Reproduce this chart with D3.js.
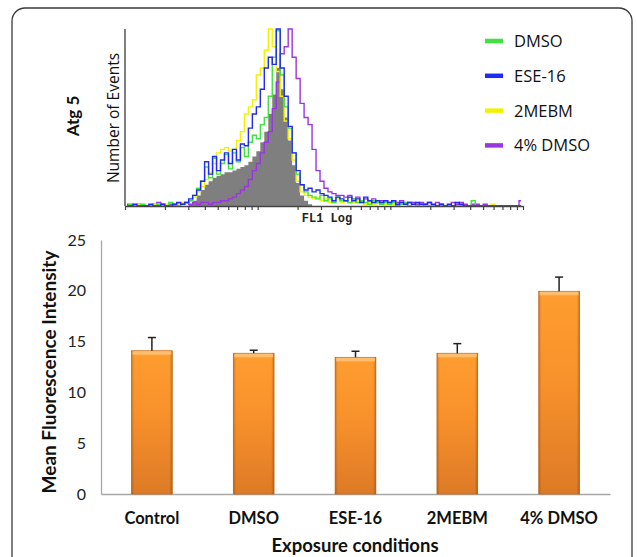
<!DOCTYPE html>
<html>
<head>
<meta charset="utf-8">
<script src="https://cdn.jsdelivr.net/npm/d3@7"></script>
<style>
  body { margin: 0; background: #fff; }
  svg { display: block; }
</style>
</head>
<body>
<div id="chart"></div>
<script>
// bar chart data
const conditions = ["Control", "DMSO", "ESE-16", "2MEBM", "4% DMSO"];
const meanFluor = [14.1, 13.85, 13.45, 13.85, 19.95];
const errUpper = [1.3, 0.3, 0.6, 0.95, 1.4];
const yTicks = [0, 5, 10, 15, 20, 25];

// flow histogram data (100 channels across FL1 log axis, % of max)
const histLabels = ["DMSO", "ESE-16", "2MEBM", "4% DMSO"];
const histColors = ["#3fe23f", "#1f2bf2", "#f2f200", "#9b35e0"];
const controlCounts = [
  0,0,0,0,0,0,0,0,0,0,
  0,0,0,0,0,0,1,3,6,9,
  12,14,16,17,18,19,19,20,21,22,
  23,25,28,31,36,42,52,63,78,66,
  50,37,23,13,6,3,1,0,0,0,
  0,0,0,0,0,0,0,0,0,0,
  0,0,0,0,0,0,0,0,0,0,
  0,0,0,0,0,0,0,0,0,0,
  0,0,0,0,0,0,0,0,0,0,
  0,0,0,0,0,0,0,0,0,0
];
const dmsoCounts = [
  0,1,0,0,1,0,0,0,1,0,
  0,2,1,0,1,2,3,6,10,14,
  22,16,27,18,24,29,21,30,25,33,
  28,36,40,38,46,50,62,84,99,74,
  56,44,30,18,12,8,6,5,4,6,
  3,4,2,5,3,3,2,4,2,3,
  2,1,3,2,1,2,1,2,0,1,
  2,0,1,0,1,0,0,0,0,0,
  0,0,0,0,0,0,0,3,0,0,
  0,0,0,0,0,0,0,0,0,0
];
const ese16Counts = [
  0,0,1,0,0,0,1,0,0,1,
  0,0,1,2,1,2,4,6,9,14,
  25,18,28,20,26,30,24,32,26,35,
  34,44,52,56,66,78,84,80,100,78,
  62,45,30,20,12,9,10,8,9,7,
  6,5,3,5,4,3,5,3,4,2,
  5,3,2,3,2,3,2,3,1,2,
  1,2,1,2,1,1,2,1,0,1,
  0,1,0,2,1,0,0,0,0,0,
  0,0,0,0,0,0,0,0,0,0
];
const mebmCounts = [
  0,1,0,1,0,0,0,1,0,0,
  1,0,1,1,2,2,3,5,8,11,
  15,19,24,30,32,33,31,32,37,42,
  52,56,60,74,78,88,100,90,76,62,
  48,38,26,14,8,6,5,4,5,3,
  4,2,3,4,2,3,2,2,3,2,
  1,2,1,2,1,1,2,1,0,1,
  1,0,1,0,0,0,0,0,0,0,
  0,0,0,0,0,0,0,0,0,0,
  0,0,1,0,0,0,0,0,0,0
];
const dmso4Counts = [
  1,0,0,1,0,0,0,1,2,1,
  0,1,0,1,1,2,1,2,1,2,
  2,1,2,2,3,3,4,5,7,9,
  11,15,20,24,30,36,42,55,70,86,
  90,100,84,72,58,50,46,32,20,14,
  10,8,7,6,6,5,6,4,5,3,
  4,3,4,2,3,3,2,3,2,3,
  1,2,2,1,2,1,2,0,2,1,
  0,0,2,1,2,1,0,1,1,0,
  1,0,0,0,0,0,0,0,0,3
];
const fl1Decades = [1, 10, 100];
const fl1Steps = [1, 2, 3, 4, 5, 6, 7, 8, 9];

const W = 637, H = 557;
const svg = d3.select("#chart").append("svg").attr("width", W).attr("height", H);

// outer frame
svg.append("rect")
  .attr("x", 12).attr("y", 8).attr("width", 620).attr("height", 600)
  .attr("rx", 13).attr("fill", "none").attr("stroke", "#3a3a3a").attr("stroke-width", 1.3);

// ---------- histogram panel ----------
const hx0 = 125, hx1 = 523, hy0 = 206, hy1 = 29;
const xBin = d3.scaleLinear().domain([0, controlCounts.length]).range([hx0, hx1]);
const xLog = d3.scaleLog().domain([1, 1000]).range([hx0, hx1]);
const yHist = d3.scaleLinear().domain([0, 100]).range([hy0, hy1]);

const hist = svg.append("g");

hist.append("path")
  .datum(controlCounts)
  .attr("fill", "#7f7f7f")
  .attr("d", d3.area().x((d, i) => xBin(i + 0.5)).y0(yHist(0)).y1(d => yHist(d)).curve(d3.curveStep));

const lineGen = d3.line().x((d, i) => xBin(i + 0.5)).y(d => yHist(d)).curve(d3.curveStep);
const seriesCounts = [dmsoCounts, ese16Counts, mebmCounts, dmso4Counts];
[3, 2, 0, 1].forEach(k => {
  hist.append("path")
    .datum(seriesCounts[k])
    .attr("fill", "none")
    .attr("stroke", histColors[k])
    .attr("stroke-width", 1.4)
    .attr("d", lineGen);
});

// axes
const logTicks = fl1Decades.flatMap(d => fl1Steps.map(s => d * s)).concat([1000]);
const xAxisH = hist.append("g")
  .attr("transform", `translate(0,${hy0})`)
  .call(d3.axisBottom(xLog).tickValues(logTicks).tickFormat("").tickSize(4).tickSizeOuter(0));
xAxisH.select(".domain").attr("stroke", "#444").attr("stroke-width", 1.5);
xAxisH.selectAll(".tick line").attr("stroke", "#444").attr("stroke-width", 1.2);

hist.append("line")
  .attr("x1", hx0).attr("x2", hx0).attr("y1", hy1).attr("y2", hy0)
  .attr("stroke", "#555").attr("stroke-width", 1.5);

hist.append("text")
  .attr("x", 327).attr("y", 222)
  .attr("text-anchor", "middle")
  .style("font-family", "'Liberation Mono', 'DejaVu Sans Mono', monospace")
  .style("font-size", "12px").style("font-weight", "bold")
  .attr("fill", "#222")
  .text("FL1 Log");

hist.append("text")
  .attr("transform", `translate(119,118) rotate(-90)`)
  .attr("text-anchor", "middle")
  .style("font-family", "'Open Sans', Lato, sans-serif")
  .style("font-size", "15.5px")
  .attr("fill", "#111")
  .text("Number of Events");

hist.append("text")
  .attr("transform", `translate(79,116) rotate(-90)`)
  .attr("text-anchor", "middle")
  .style("font-family", "Lato, 'Open Sans', sans-serif")
  .style("font-size", "17px").style("font-weight", "bold")
  .attr("fill", "#111")
  .text("Atg 5");

// legend
const legend = svg.append("g").attr("transform", "translate(485,41)");
histLabels.forEach((lab, i) => {
  const g = legend.append("g").attr("transform", `translate(0,${i * 34.8})`);
  g.append("line").attr("x1", 0).attr("x2", 18).attr("y1", 0).attr("y2", 0)
    .attr("stroke", histColors[i]).attr("stroke-width", 4.5);
  g.append("text").attr("x", 29).attr("y", 0).attr("dy", "0.36em")
    .style("font-family", "'Open Sans', Lato, sans-serif")
    .style("font-size", "16.5px").attr("fill", "#111")
    .text(lab);
});

// ---------- bar chart ----------
const bx0 = 101, bx1 = 610, by0 = 494, by1 = 240;
const x = d3.scaleBand().domain(conditions).range([bx0, bx1]).paddingInner(0.6).paddingOuter(0.3);
const y = d3.scaleLinear().domain([0, 25]).range([by0, by1]);

const defs = svg.append("defs");
const grad = defs.append("linearGradient").attr("id", "barGrad")
  .attr("x1", 0).attr("y1", 0).attr("x2", 0).attr("y2", 1);
grad.append("stop").attr("offset", "0%").attr("stop-color", "#ff9d30");
grad.append("stop").attr("offset", "45%").attr("stop-color", "#f8912b");
grad.append("stop").attr("offset", "100%").attr("stop-color", "#dd7a26");
const side = defs.append("linearGradient").attr("id", "sideGrad")
  .attr("x1", 0).attr("y1", 0).attr("x2", 1).attr("y2", 0);
side.append("stop").attr("offset", "0%").attr("stop-color", "#000").attr("stop-opacity", 0.18);
side.append("stop").attr("offset", "7%").attr("stop-color", "#000").attr("stop-opacity", 0);
side.append("stop").attr("offset", "93%").attr("stop-color", "#000").attr("stop-opacity", 0);
side.append("stop").attr("offset", "100%").attr("stop-color", "#000").attr("stop-opacity", 0.22);

const chart = svg.append("g");

// axes lines
const yAxis = chart.append("g")
  .attr("transform", `translate(${bx0},0)`)
  .call(d3.axisLeft(y).tickValues(yTicks).tickSize(0).tickPadding(15));
yAxis.select(".domain").attr("stroke", "#a6a6a6").attr("stroke-width", 1.3);
yAxis.selectAll(".tick text")
  .style("font-family", "Lato, 'Open Sans', sans-serif")
  .style("font-size", "16px").attr("fill", "#222");

const xAxis = chart.append("g")
  .attr("transform", `translate(0,${by0})`)
  .call(d3.axisBottom(x).tickSize(0).tickPadding(18));
xAxis.select(".domain").attr("stroke", "#a6a6a6").attr("stroke-width", 1.3);
xAxis.selectAll(".tick text")
  .style("font-family", "Lato, 'Open Sans', sans-serif")
  .style("font-size", "16.5px").style("font-weight", "bold").attr("fill", "#111");

const bars = chart.selectAll(".bar").data(conditions).enter().append("g").attr("class", "bar");
bars.append("rect")
  .attr("x", d => x(d)).attr("y", (d, i) => y(meanFluor[i]))
  .attr("width", x.bandwidth()).attr("height", (d, i) => y(0) - y(meanFluor[i]))
  .attr("fill", "url(#barGrad)").attr("stroke", "#c96f1f").attr("stroke-width", 0.8);
bars.append("rect")
  .attr("x", d => x(d)).attr("y", (d, i) => y(meanFluor[i]))
  .attr("width", x.bandwidth()).attr("height", (d, i) => y(0) - y(meanFluor[i]))
  .attr("fill", "url(#sideGrad)");
bars.append("rect")
  .attr("x", d => x(d) + 1).attr("y", (d, i) => y(meanFluor[i]) + 0.5)
  .attr("width", x.bandwidth() - 2).attr("height", 3.5)
  .attr("fill", "#ffbe6e");

// error bars (upper only)
bars.append("line")
  .attr("x1", d => x(d) + x.bandwidth() / 2).attr("x2", d => x(d) + x.bandwidth() / 2)
  .attr("y1", (d, i) => y(meanFluor[i])).attr("y2", (d, i) => y(meanFluor[i] + errUpper[i]))
  .attr("stroke", "#222").attr("stroke-width", 1.5);
bars.append("line")
  .attr("x1", d => x(d) + x.bandwidth() / 2 - 4).attr("x2", d => x(d) + x.bandwidth() / 2 + 4)
  .attr("y1", (d, i) => y(meanFluor[i] + errUpper[i])).attr("y2", (d, i) => y(meanFluor[i] + errUpper[i]))
  .attr("stroke", "#222").attr("stroke-width", 1.5);

chart.append("text")
  .attr("x", 355).attr("y", 552)
  .attr("text-anchor", "middle")
  .style("font-family", "Lato, 'Open Sans', sans-serif")
  .style("font-size", "18.5px").style("font-weight", "bold").attr("fill", "#111")
  .text("Exposure conditions");

chart.append("text")
  .attr("transform", "translate(56,372) rotate(-90)")
  .attr("text-anchor", "middle")
  .style("font-family", "Lato, 'Open Sans', sans-serif")
  .style("font-size", "19px").style("font-weight", "bold").attr("fill", "#111")
  .text("Mean Fluorescence Intensity");
</script>
</body>
</html>
